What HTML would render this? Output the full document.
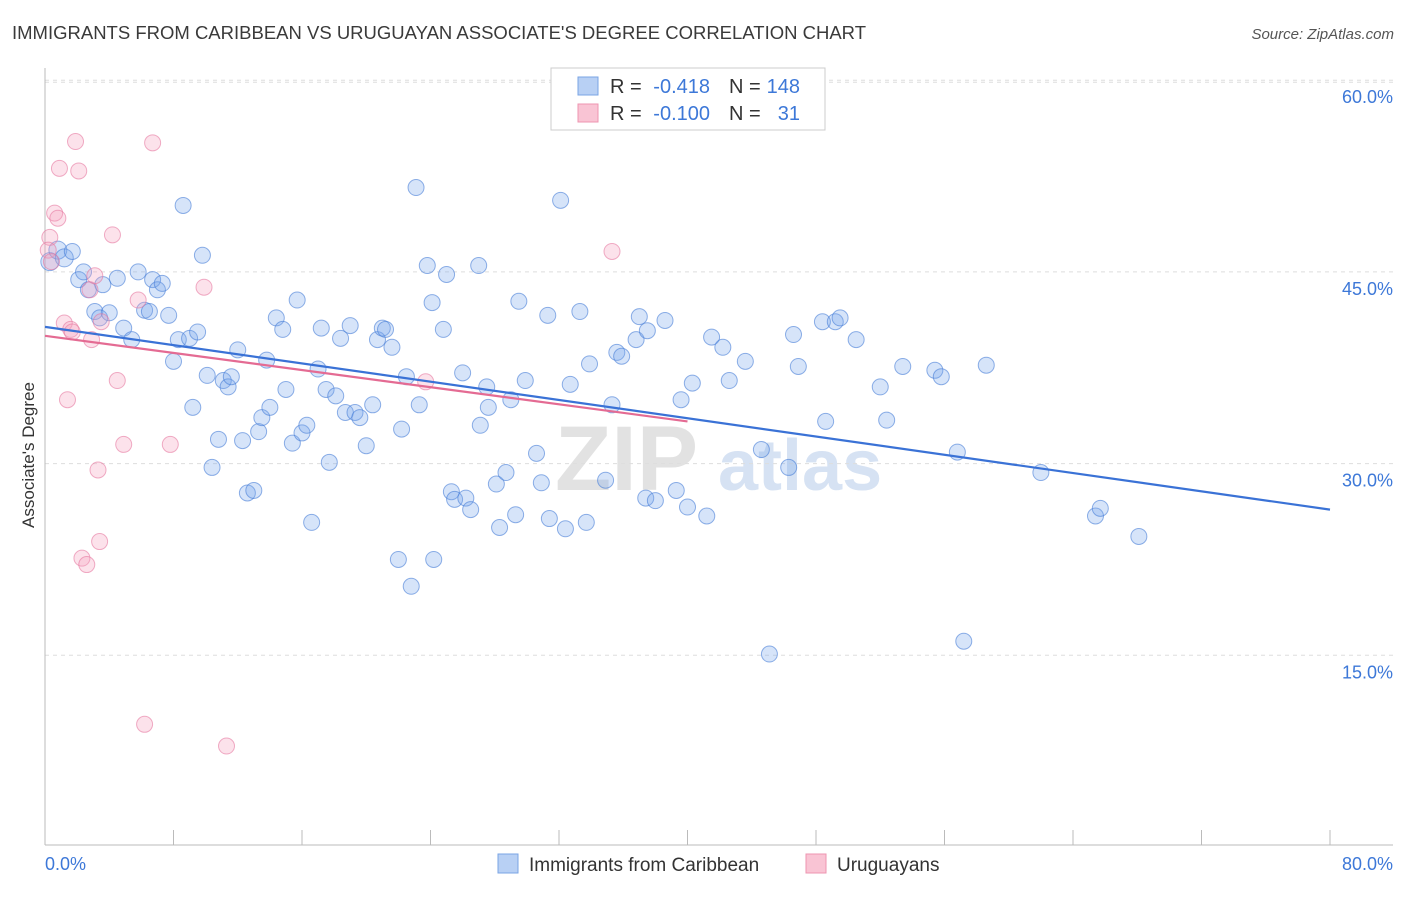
<!DOCTYPE html>
<html><head><meta charset="utf-8">
<style>
body{margin:0;background:#fff;font-family:"Liberation Sans",sans-serif;}
svg text{font-family:"Liberation Sans",sans-serif;}
</style></head>
<body>
<svg id="chart" width="1406" height="892" viewBox="0 0 1406 892" xmlns="http://www.w3.org/2000/svg">
<text x="12" y="39" font-size="18.5" fill="#3a3a3a" textLength="854" lengthAdjust="spacingAndGlyphs">IMMIGRANTS FROM CARIBBEAN VS URUGUAYAN ASSOCIATE'S DEGREE CORRELATION CHART</text>
<text x="1394" y="39" font-size="15" fill="#555" font-style="italic" text-anchor="end">Source: ZipAtlas.com</text>
<g>
<text x="555" y="490" font-size="92" fill="#e2e2e2" font-family="Liberation Serif" font-weight="bold">ZIP</text>
<text x="718" y="490" font-size="72" fill="#d6e2f3" font-weight="bold">atlas</text>
</g>
<g id="grid"></g>
<g id="axes"></g>
<g id="points"></g>
<g id="trends"></g>
<text transform="translate(34,455) rotate(-90)" font-size="17" fill="#333" text-anchor="middle">Associate's Degree</text>
<g>
<rect x="551" y="68" width="274" height="62" fill="#fff" stroke="#ccc"/>
<rect x="578" y="77" width="20" height="18" fill="#b8d0f4" stroke="#7aa4e4"/>
<rect x="578" y="104" width="20" height="18" fill="#f9c4d4" stroke="#ee95b0"/>
<text x="610" y="93" font-size="20" fill="#333">R =</text>
<text x="710" y="93" font-size="20" fill="#3d78d8" text-anchor="end">-0.418</text>
<text x="729" y="93" font-size="20" fill="#333">N =</text>
<text x="800" y="93" font-size="20" fill="#3d78d8" text-anchor="end">148</text>
<text x="610" y="120" font-size="20" fill="#333">R =</text>
<text x="710" y="120" font-size="20" fill="#3d78d8" text-anchor="end">-0.100</text>
<text x="729" y="120" font-size="20" fill="#333">N =</text>
<text x="800" y="120" font-size="20" fill="#3d78d8" text-anchor="end">31</text>
</g>
<g>
<rect x="498" y="854" width="20" height="19" fill="#b8d0f4" stroke="#7aa4e4"/>
<text x="529" y="871" font-size="19" fill="#333">Immigrants from Caribbean</text>
<rect x="806" y="854" width="20" height="19" fill="#f9c4d4" stroke="#ee95b0"/>
<text x="837" y="871" font-size="19" fill="#333">Uruguayans</text>
</g>
</svg>
<script>
const blueX=[0.3,0.8,1.2,1.7,2.1,2.4,2.7,3.1,3.4,3.6,4.0,4.5,4.9,5.4,5.8,6.2,6.5,6.7,7.0,7.3,7.7,8.0,8.3,8.6,9.0,9.2,9.5,9.8,10.1,10.4,10.8,11.1,11.4,11.6,12.0,12.3,12.6,13.0,13.3,13.5,13.8,14.0,14.4,14.8,15.0,15.4,15.7,16.0,16.3,16.6,17.0,17.2,17.5,17.7,18.1,18.4,18.7,19.0,19.3,19.6,20.0,20.4,20.7,21.0,21.2,21.6,22.0,22.2,22.5,22.8,23.1,23.3,23.8,24.1,24.2,24.8,25.0,25.3,25.5,26.0,26.2,26.5,27.0,27.1,27.5,27.6,28.1,28.3,28.7,29.0,29.3,29.5,29.9,30.6,30.9,31.3,31.4,32.1,32.4,32.7,33.3,33.7,33.9,34.9,35.3,35.6,35.9,36.8,37.0,37.4,37.5,38.0,38.6,39.3,39.6,40.0,40.3,41.2,41.5,42.2,42.6,43.6,44.6,45.1,46.3,46.6,46.9,48.4,48.6,49.2,49.5,50.5,52.0,52.4,53.4,55.4,55.8,56.8,57.2,58.6,62.0,65.4,65.7,68.1];
const blueY=[45.8,46.7,46.1,46.6,44.4,45.0,43.6,41.9,41.4,44.0,41.8,44.5,40.6,39.7,45.0,42.0,41.9,44.4,43.6,44.1,41.6,38.0,39.7,50.2,39.8,34.4,40.3,46.3,36.9,29.7,31.9,36.5,36.0,36.8,38.9,31.8,27.7,27.9,32.5,33.6,38.1,34.4,41.4,40.5,35.8,31.6,42.8,32.4,33.0,25.4,37.4,40.6,35.8,30.1,35.3,39.8,34.0,40.8,34.0,33.6,31.4,34.6,39.7,40.6,40.5,39.1,22.5,32.7,36.8,20.4,51.6,34.6,45.5,42.6,22.5,40.5,44.8,27.8,27.2,37.1,27.3,26.4,45.5,33.0,36.0,34.4,28.4,25.0,29.3,35.0,26.0,42.7,36.5,30.8,28.5,41.6,25.7,50.6,24.9,36.2,41.9,25.4,37.8,28.7,34.6,38.7,38.4,39.7,41.5,27.3,40.4,27.1,41.2,27.9,35.0,26.6,36.3,25.9,39.9,39.1,36.5,38.0,31.1,15.1,29.7,40.1,37.6,41.1,33.3,41.1,41.4,39.7,36.0,33.4,37.6,37.3,36.8,30.9,16.1,37.7,29.3,25.9,26.5,24.3];
const pinkX=[0.3,0.6,0.8,0.9,1.2,1.4,1.6,1.7,1.9,2.1,2.3,2.6,2.8,2.9,3.1,3.3,3.4,3.5,4.2,4.5,4.9,5.8,6.2,6.7,7.8,9.9,11.3,23.7,35.3,0.2,0.4];
const pinkY=[47.7,49.6,49.2,53.1,41.0,35.0,40.5,40.3,55.2,52.9,22.6,22.1,43.6,39.7,44.7,29.5,23.9,41.1,47.9,36.5,31.5,42.8,9.6,55.1,31.5,43.8,7.9,36.4,46.6,46.7,45.8];
const blueTrend=[40.7,26.4]; // y at x=0 and x=80
const pinkTrend=[40.0,33.3]; // y at x=0 and x=40
const yTicks=[15,30,45,60];
const xTickLabels=["0.0%","80.0%"];

const NS="http://www.w3.org/2000/svg";
const X0=45,X1=1330,Y0=847,PXPER=191.7/15;
const sx=v=>X0+(X1-X0)*v/80;
const sy=v=>Y0-v*PXPER;
function mk(tag,attrs,parent){const e=document.createElementNS(NS,tag);for(const k in attrs)e.setAttribute(k,attrs[k]);parent.appendChild(e);return e;}
const gridG=document.getElementById('grid'),axesG=document.getElementById('axes'),ptsG=document.getElementById('points'),trG=document.getElementById('trends');
yTicks.forEach(t=>{
 const l=mk('line',{x1:45,x2:1393,y1:sy(t),y2:sy(t),stroke:'#ddd','stroke-dasharray':'4,4'},gridG);
 
 
 const tx=mk('text',{x:1393,y:sy(t)+23,'font-size':18,fill:'#3d78d8','text-anchor':'end'},axesG);
 tx.textContent=t.toFixed(1)+'%';
 
 
});
const topLine=mk('line',{x1:45,x2:1393,y1:sy(60)+2,y2:sy(60)+2,stroke:'#ddd','stroke-dasharray':'4,4'},gridG);


const ya=mk('line',{x1:45,x2:45,y1:68,y2:845,stroke:'#bbb'},axesG);


const xa=mk('line',{x1:45,x2:1393,y1:845,y2:845,stroke:'#bbb'},axesG);


for(let i=0;i<=10;i++){const t=mk('line',{x1:sx(i*8),x2:sx(i*8),y1:830,y2:845,stroke:'#bbb'},axesG);
 
 }
[[45,'start',xTickLabels[0]],[1393,'end',xTickLabels[1]]].forEach(([x,a,s])=>{const t=mk('text',{x:x,y:870,'font-size':18,fill:'#3d78d8','text-anchor':a},axesG);t.textContent=s;
 
 });
blueX.forEach((v,i)=>{const c=mk('circle',{cx:sx(v),cy:sy(blueY[i]),r:i<3?9:8,fill:'rgba(120,165,235,0.3)',stroke:'rgba(70,125,215,0.6)','stroke-width':1},ptsG);
 
 });
pinkX.forEach((v,i)=>{const c=mk('circle',{cx:sx(v),cy:sy(pinkY[i]),r:8,fill:'rgba(245,160,190,0.3)',stroke:'rgba(230,120,160,0.6)','stroke-width':1},ptsG);
 
 });
const bl=mk('line',{x1:sx(0),y1:sy(blueTrend[0]),x2:sx(80),y2:sy(blueTrend[1]),stroke:'#3a72d6','stroke-width':2.2},trG);


const pl=mk('line',{x1:sx(0),y1:sy(pinkTrend[0]),x2:sx(40),y2:sy(pinkTrend[1]),stroke:'#e46b93','stroke-width':2.2},trG);


</script>
</body></html>
